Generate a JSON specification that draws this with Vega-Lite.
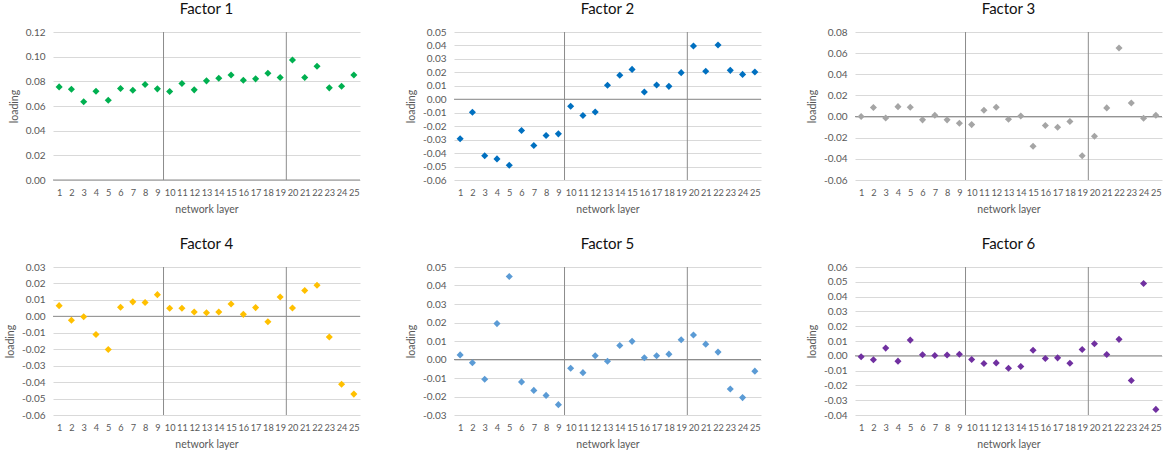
{
  "$schema": "https://vega.github.io/schema/vega-lite/v6.json",
  "padding": {"left": 5, "top": 2, "right": 2, "bottom": 2},
  "background": "white",
  "datasets": {
    "loadings": [
      {"factor": 1, "layer": 1, "loading": 0.0755}, {"factor": 1, "layer": 2, "loading": 0.0736}, {"factor": 1, "layer": 3, "loading": 0.0634}, {"factor": 1, "layer": 4, "loading": 0.0720}, {"factor": 1, "layer": 5, "loading": 0.0647},
      {"factor": 1, "layer": 6, "loading": 0.0742}, {"factor": 1, "layer": 7, "loading": 0.0728}, {"factor": 1, "layer": 8, "loading": 0.0774}, {"factor": 1, "layer": 9, "loading": 0.0739}, {"factor": 1, "layer": 10, "loading": 0.0717},
      {"factor": 1, "layer": 11, "loading": 0.0782}, {"factor": 1, "layer": 12, "loading": 0.0731}, {"factor": 1, "layer": 13, "loading": 0.0804}, {"factor": 1, "layer": 14, "loading": 0.0825}, {"factor": 1, "layer": 15, "loading": 0.0852},
      {"factor": 1, "layer": 16, "loading": 0.0809}, {"factor": 1, "layer": 17, "loading": 0.0820}, {"factor": 1, "layer": 18, "loading": 0.0866}, {"factor": 1, "layer": 19, "loading": 0.0831}, {"factor": 1, "layer": 20, "loading": 0.0973},
      {"factor": 1, "layer": 21, "loading": 0.0831}, {"factor": 1, "layer": 22, "loading": 0.0922}, {"factor": 1, "layer": 23, "loading": 0.0747}, {"factor": 1, "layer": 24, "loading": 0.0760}, {"factor": 1, "layer": 25, "loading": 0.0852},

      {"factor": 2, "layer": 1, "loading": -0.0294}, {"factor": 2, "layer": 2, "loading": -0.0096}, {"factor": 2, "layer": 3, "loading": -0.0420}, {"factor": 2, "layer": 4, "loading": -0.0443}, {"factor": 2, "layer": 5, "loading": -0.0490},
      {"factor": 2, "layer": 6, "loading": -0.0232}, {"factor": 2, "layer": 7, "loading": -0.0344}, {"factor": 2, "layer": 8, "loading": -0.0269}, {"factor": 2, "layer": 9, "loading": -0.0257}, {"factor": 2, "layer": 10, "loading": -0.0052},
      {"factor": 2, "layer": 11, "loading": -0.0121}, {"factor": 2, "layer": 12, "loading": -0.0094}, {"factor": 2, "layer": 13, "loading": 0.0104}, {"factor": 2, "layer": 14, "loading": 0.0178}, {"factor": 2, "layer": 15, "loading": 0.0222},
      {"factor": 2, "layer": 16, "loading": 0.0054}, {"factor": 2, "layer": 17, "loading": 0.0106}, {"factor": 2, "layer": 18, "loading": 0.0096}, {"factor": 2, "layer": 19, "loading": 0.0198}, {"factor": 2, "layer": 20, "loading": 0.0396},
      {"factor": 2, "layer": 21, "loading": 0.0208}, {"factor": 2, "layer": 22, "loading": 0.0403}, {"factor": 2, "layer": 23, "loading": 0.0215}, {"factor": 2, "layer": 24, "loading": 0.0185}, {"factor": 2, "layer": 25, "loading": 0.0203},

      {"factor": 3, "layer": 1, "loading": 0.0000}, {"factor": 3, "layer": 2, "loading": 0.0085}, {"factor": 3, "layer": 3, "loading": -0.0013}, {"factor": 3, "layer": 4, "loading": 0.0094}, {"factor": 3, "layer": 5, "loading": 0.0088},
      {"factor": 3, "layer": 6, "loading": -0.0031}, {"factor": 3, "layer": 7, "loading": 0.0013}, {"factor": 3, "layer": 8, "loading": -0.0031}, {"factor": 3, "layer": 9, "loading": -0.0063}, {"factor": 3, "layer": 10, "loading": -0.0076},
      {"factor": 3, "layer": 11, "loading": 0.0060}, {"factor": 3, "layer": 12, "loading": 0.0088}, {"factor": 3, "layer": 13, "loading": -0.0025}, {"factor": 3, "layer": 14, "loading": 0.0006}, {"factor": 3, "layer": 15, "loading": -0.0280},
      {"factor": 3, "layer": 16, "loading": -0.0085}, {"factor": 3, "layer": 17, "loading": -0.0101}, {"factor": 3, "layer": 18, "loading": -0.0047}, {"factor": 3, "layer": 19, "loading": -0.0371}, {"factor": 3, "layer": 20, "loading": -0.0186},
      {"factor": 3, "layer": 21, "loading": 0.0082}, {"factor": 3, "layer": 22, "loading": 0.0648}, {"factor": 3, "layer": 23, "loading": 0.0129}, {"factor": 3, "layer": 24, "loading": -0.0016}, {"factor": 3, "layer": 25, "loading": 0.0013},

      {"factor": 4, "layer": 1, "loading": 0.0065}, {"factor": 4, "layer": 2, "loading": -0.0024}, {"factor": 4, "layer": 3, "loading": -0.0002}, {"factor": 4, "layer": 4, "loading": -0.0110}, {"factor": 4, "layer": 5, "loading": -0.0202},
      {"factor": 4, "layer": 6, "loading": 0.0055}, {"factor": 4, "layer": 7, "loading": 0.0088}, {"factor": 4, "layer": 8, "loading": 0.0084}, {"factor": 4, "layer": 9, "loading": 0.0132}, {"factor": 4, "layer": 10, "loading": 0.0049},
      {"factor": 4, "layer": 11, "loading": 0.0049}, {"factor": 4, "layer": 12, "loading": 0.0026}, {"factor": 4, "layer": 13, "loading": 0.0022}, {"factor": 4, "layer": 14, "loading": 0.0026}, {"factor": 4, "layer": 15, "loading": 0.0075},
      {"factor": 4, "layer": 16, "loading": 0.0012}, {"factor": 4, "layer": 17, "loading": 0.0053}, {"factor": 4, "layer": 18, "loading": -0.0033}, {"factor": 4, "layer": 19, "loading": 0.0118}, {"factor": 4, "layer": 20, "loading": 0.0051},
      {"factor": 4, "layer": 21, "loading": 0.0157}, {"factor": 4, "layer": 22, "loading": 0.0189}, {"factor": 4, "layer": 23, "loading": -0.0126}, {"factor": 4, "layer": 24, "loading": -0.0413}, {"factor": 4, "layer": 25, "loading": -0.0473},

      {"factor": 5, "layer": 1, "loading": 0.0025}, {"factor": 5, "layer": 2, "loading": -0.0018}, {"factor": 5, "layer": 3, "loading": -0.0107}, {"factor": 5, "layer": 4, "loading": 0.0194}, {"factor": 5, "layer": 5, "loading": 0.0449},
      {"factor": 5, "layer": 6, "loading": -0.0121}, {"factor": 5, "layer": 7, "loading": -0.0167}, {"factor": 5, "layer": 8, "loading": -0.0194}, {"factor": 5, "layer": 9, "loading": -0.0244}, {"factor": 5, "layer": 10, "loading": -0.0047},
      {"factor": 5, "layer": 11, "loading": -0.0071}, {"factor": 5, "layer": 12, "loading": 0.0020}, {"factor": 5, "layer": 13, "loading": -0.0009}, {"factor": 5, "layer": 14, "loading": 0.0076}, {"factor": 5, "layer": 15, "loading": 0.0098},
      {"factor": 5, "layer": 16, "loading": 0.0009}, {"factor": 5, "layer": 17, "loading": 0.0020}, {"factor": 5, "layer": 18, "loading": 0.0029}, {"factor": 5, "layer": 19, "loading": 0.0107}, {"factor": 5, "layer": 20, "loading": 0.0132},
      {"factor": 5, "layer": 21, "loading": 0.0083}, {"factor": 5, "layer": 22, "loading": 0.0040}, {"factor": 5, "layer": 23, "loading": -0.0159}, {"factor": 5, "layer": 24, "loading": -0.0206}, {"factor": 5, "layer": 25, "loading": -0.0063},

      {"factor": 6, "layer": 1, "loading": -0.0007}, {"factor": 6, "layer": 2, "loading": -0.0027}, {"factor": 6, "layer": 3, "loading": 0.0052}, {"factor": 6, "layer": 4, "loading": -0.0036}, {"factor": 6, "layer": 5, "loading": 0.0106},
      {"factor": 6, "layer": 6, "loading": 0.0007}, {"factor": 6, "layer": 7, "loading": 0.0002}, {"factor": 6, "layer": 8, "loading": 0.0005}, {"factor": 6, "layer": 9, "loading": 0.0011}, {"factor": 6, "layer": 10, "loading": -0.0025},
      {"factor": 6, "layer": 11, "loading": -0.0052}, {"factor": 6, "layer": 12, "loading": -0.0048}, {"factor": 6, "layer": 13, "loading": -0.0084}, {"factor": 6, "layer": 14, "loading": -0.0072}, {"factor": 6, "layer": 15, "loading": 0.0038},
      {"factor": 6, "layer": 16, "loading": -0.0018}, {"factor": 6, "layer": 17, "loading": -0.0014}, {"factor": 6, "layer": 18, "loading": -0.0050}, {"factor": 6, "layer": 19, "loading": 0.0043}, {"factor": 6, "layer": 20, "loading": 0.0081},
      {"factor": 6, "layer": 21, "loading": 0.0009}, {"factor": 6, "layer": 22, "loading": 0.0111}, {"factor": 6, "layer": 23, "loading": -0.0167}, {"factor": 6, "layer": 24, "loading": 0.0489}, {"factor": 6, "layer": 25, "loading": -0.0362}
    ],
    "one": [{}]
  },
  "config": {
    "font": "Lato",
    "view": {"stroke": null},
    "axis": {
      "labelFont": "Lato", "labelFontSize": 10, "labelColor": "#595959",
      "titleFont": "Lato", "titleFontSize": 10.5, "titleColor": "#595959", "titleFontWeight": "normal",
      "ticks": false, "domain": false, "gridColor": "#d9d9d9", "gridWidth": 1, "gridOpacity": 1
    },
    "axisX": {"grid": false, "labelFontSize": 9.2, "labelPadding": 8, "titlePadding": 7, "labelBound": false},
    "axisY": {"grid": true, "labelPadding": 8, "titlePadding": 6},
    "title": {"font": "Lato", "fontSize": 15, "fontWeight": "normal", "color": "#111111", "offset": 10},
    "concat": {"spacing": 45}
  },
  "vconcat": [
    {
      "hconcat": [
        {
          "title": "Factor 1", "width": 307, "height": 148,
          "layer": [
            {"data": {"name": "one"}, "mark": {"type": "rule", "color": "#8c8c8c", "strokeWidth": 1}, "encoding": {"x": {"datum": 9.5, "type": "quantitative"}}},
            {"data": {"name": "one"}, "mark": {"type": "rule", "color": "#8c8c8c", "strokeWidth": 1}, "encoding": {"x": {"datum": 19.5, "type": "quantitative"}}},
            {"data": {"name": "one"}, "mark": {"type": "rule", "color": "#8c8c8c", "strokeWidth": 1}, "encoding": {"y": {"datum": 0, "type": "quantitative"}}},
            {"data": {"name": "loadings"}, "transform": [{"filter": "datum.factor === 1"}],
             "mark": {"type": "point", "shape": "diamond", "filled": true, "size": 50, "opacity": 1, "color": "#00b050"},
             "encoding": {
               "x": {"field": "layer", "type": "quantitative", "scale": {"domain": [0.5, 25.5], "nice": false, "zero": false},
                     "axis": {"title": "network layer", "labelOverlap": false, "tickCount": 40, "values": [1,2,3,4,5,6,7,8,9,10,11,12,13,14,15,16,17,18,19,20,21,22,23,24,25], "format": "d"}},
               "y": {"field": "loading", "type": "quantitative", "scale": {"domain": [0, 0.12], "nice": false, "zero": false},
                     "axis": {"title": "loading", "grid": true, "labelOverlap": false, "tickCount": 40, "values": [0, 0.02, 0.04, 0.06, 0.08, 0.1, 0.12], "labelExpr": "replace(format(datum.value, '.2f'), '\u2212', '-')"}}
             }}
          ]
        },
        {
          "title": "Factor 2", "width": 307, "height": 148,
          "layer": [
            {"data": {"name": "one"}, "mark": {"type": "rule", "color": "#8c8c8c", "strokeWidth": 1}, "encoding": {"x": {"datum": 9.5, "type": "quantitative"}}},
            {"data": {"name": "one"}, "mark": {"type": "rule", "color": "#8c8c8c", "strokeWidth": 1}, "encoding": {"x": {"datum": 19.5, "type": "quantitative"}}},
            {"data": {"name": "one"}, "mark": {"type": "rule", "color": "#8c8c8c", "strokeWidth": 1}, "encoding": {"y": {"datum": 0, "type": "quantitative"}}},
            {"data": {"name": "loadings"}, "transform": [{"filter": "datum.factor === 2"}],
             "mark": {"type": "point", "shape": "diamond", "filled": true, "size": 50, "opacity": 1, "color": "#0070c0"},
             "encoding": {
               "x": {"field": "layer", "type": "quantitative", "scale": {"domain": [0.5, 25.5], "nice": false, "zero": false},
                     "axis": {"title": "network layer", "labelOverlap": false, "tickCount": 40, "values": [1,2,3,4,5,6,7,8,9,10,11,12,13,14,15,16,17,18,19,20,21,22,23,24,25], "format": "d"}},
               "y": {"field": "loading", "type": "quantitative", "scale": {"domain": [-0.06, 0.05], "nice": false, "zero": false},
                     "axis": {"title": "loading", "grid": true, "labelOverlap": false, "tickCount": 40, "values": [-0.06, -0.05, -0.04, -0.03, -0.02, -0.01, 0, 0.01, 0.02, 0.03, 0.04, 0.05], "labelExpr": "replace(format(datum.value, '.2f'), '\u2212', '-')"}}
             }}
          ]
        },
        {
          "title": "Factor 3", "width": 307, "height": 148,
          "layer": [
            {"data": {"name": "one"}, "mark": {"type": "rule", "color": "#8c8c8c", "strokeWidth": 1}, "encoding": {"x": {"datum": 9.5, "type": "quantitative"}}},
            {"data": {"name": "one"}, "mark": {"type": "rule", "color": "#8c8c8c", "strokeWidth": 1}, "encoding": {"x": {"datum": 19.5, "type": "quantitative"}}},
            {"data": {"name": "one"}, "mark": {"type": "rule", "color": "#8c8c8c", "strokeWidth": 1}, "encoding": {"y": {"datum": 0, "type": "quantitative"}}},
            {"data": {"name": "loadings"}, "transform": [{"filter": "datum.factor === 3"}],
             "mark": {"type": "point", "shape": "diamond", "filled": true, "size": 50, "opacity": 1, "color": "#a5a5a5"},
             "encoding": {
               "x": {"field": "layer", "type": "quantitative", "scale": {"domain": [0.5, 25.5], "nice": false, "zero": false},
                     "axis": {"title": "network layer", "labelOverlap": false, "tickCount": 40, "values": [1,2,3,4,5,6,7,8,9,10,11,12,13,14,15,16,17,18,19,20,21,22,23,24,25], "format": "d"}},
               "y": {"field": "loading", "type": "quantitative", "scale": {"domain": [-0.06, 0.08], "nice": false, "zero": false},
                     "axis": {"title": "loading", "grid": true, "labelOverlap": false, "tickCount": 40, "values": [-0.06, -0.04, -0.02, 0, 0.02, 0.04, 0.06, 0.08], "labelExpr": "replace(format(datum.value, '.2f'), '\u2212', '-')"}}
             }}
          ]
        }
      ]
    },
    {
      "hconcat": [
        {
          "title": "Factor 4", "width": 307, "height": 148,
          "layer": [
            {"data": {"name": "one"}, "mark": {"type": "rule", "color": "#8c8c8c", "strokeWidth": 1}, "encoding": {"x": {"datum": 9.5, "type": "quantitative"}}},
            {"data": {"name": "one"}, "mark": {"type": "rule", "color": "#8c8c8c", "strokeWidth": 1}, "encoding": {"x": {"datum": 19.5, "type": "quantitative"}}},
            {"data": {"name": "one"}, "mark": {"type": "rule", "color": "#8c8c8c", "strokeWidth": 1}, "encoding": {"y": {"datum": 0, "type": "quantitative"}}},
            {"data": {"name": "loadings"}, "transform": [{"filter": "datum.factor === 4"}],
             "mark": {"type": "point", "shape": "diamond", "filled": true, "size": 50, "opacity": 1, "color": "#ffc000"},
             "encoding": {
               "x": {"field": "layer", "type": "quantitative", "scale": {"domain": [0.5, 25.5], "nice": false, "zero": false},
                     "axis": {"title": "network layer", "labelOverlap": false, "tickCount": 40, "values": [1,2,3,4,5,6,7,8,9,10,11,12,13,14,15,16,17,18,19,20,21,22,23,24,25], "format": "d"}},
               "y": {"field": "loading", "type": "quantitative", "scale": {"domain": [-0.06, 0.03], "nice": false, "zero": false},
                     "axis": {"title": "loading", "grid": true, "labelOverlap": false, "tickCount": 40, "values": [-0.06, -0.05, -0.04, -0.03, -0.02, -0.01, 0, 0.01, 0.02, 0.03], "labelExpr": "replace(format(datum.value, '.2f'), '\u2212', '-')"}}
             }}
          ]
        },
        {
          "title": "Factor 5", "width": 307, "height": 148,
          "layer": [
            {"data": {"name": "one"}, "mark": {"type": "rule", "color": "#8c8c8c", "strokeWidth": 1}, "encoding": {"x": {"datum": 9.5, "type": "quantitative"}}},
            {"data": {"name": "one"}, "mark": {"type": "rule", "color": "#8c8c8c", "strokeWidth": 1}, "encoding": {"x": {"datum": 19.5, "type": "quantitative"}}},
            {"data": {"name": "one"}, "mark": {"type": "rule", "color": "#8c8c8c", "strokeWidth": 1}, "encoding": {"y": {"datum": 0, "type": "quantitative"}}},
            {"data": {"name": "loadings"}, "transform": [{"filter": "datum.factor === 5"}],
             "mark": {"type": "point", "shape": "diamond", "filled": true, "size": 50, "opacity": 1, "color": "#5b9bd5"},
             "encoding": {
               "x": {"field": "layer", "type": "quantitative", "scale": {"domain": [0.5, 25.5], "nice": false, "zero": false},
                     "axis": {"title": "network layer", "labelOverlap": false, "tickCount": 40, "values": [1,2,3,4,5,6,7,8,9,10,11,12,13,14,15,16,17,18,19,20,21,22,23,24,25], "format": "d"}},
               "y": {"field": "loading", "type": "quantitative", "scale": {"domain": [-0.03, 0.05], "nice": false, "zero": false},
                     "axis": {"title": "loading", "grid": true, "labelOverlap": false, "tickCount": 40, "values": [-0.03, -0.02, -0.01, 0, 0.01, 0.02, 0.03, 0.04, 0.05], "labelExpr": "replace(format(datum.value, '.2f'), '\u2212', '-')"}}
             }}
          ]
        },
        {
          "title": "Factor 6", "width": 307, "height": 148,
          "layer": [
            {"data": {"name": "one"}, "mark": {"type": "rule", "color": "#8c8c8c", "strokeWidth": 1}, "encoding": {"x": {"datum": 9.5, "type": "quantitative"}}},
            {"data": {"name": "one"}, "mark": {"type": "rule", "color": "#8c8c8c", "strokeWidth": 1}, "encoding": {"x": {"datum": 19.5, "type": "quantitative"}}},
            {"data": {"name": "one"}, "mark": {"type": "rule", "color": "#8c8c8c", "strokeWidth": 1}, "encoding": {"y": {"datum": 0, "type": "quantitative"}}},
            {"data": {"name": "loadings"}, "transform": [{"filter": "datum.factor === 6"}],
             "mark": {"type": "point", "shape": "diamond", "filled": true, "size": 50, "opacity": 1, "color": "#7030a0"},
             "encoding": {
               "x": {"field": "layer", "type": "quantitative", "scale": {"domain": [0.5, 25.5], "nice": false, "zero": false},
                     "axis": {"title": "network layer", "labelOverlap": false, "tickCount": 40, "values": [1,2,3,4,5,6,7,8,9,10,11,12,13,14,15,16,17,18,19,20,21,22,23,24,25], "format": "d"}},
               "y": {"field": "loading", "type": "quantitative", "scale": {"domain": [-0.04, 0.06], "nice": false, "zero": false},
                     "axis": {"title": "loading", "grid": true, "labelOverlap": false, "tickCount": 40, "values": [-0.04, -0.03, -0.02, -0.01, 0, 0.01, 0.02, 0.03, 0.04, 0.05, 0.06], "labelExpr": "replace(format(datum.value, '.2f'), '\u2212', '-')"}}
             }}
          ]
        }
      ]
    }
  ],
  "spacing": 22
}
